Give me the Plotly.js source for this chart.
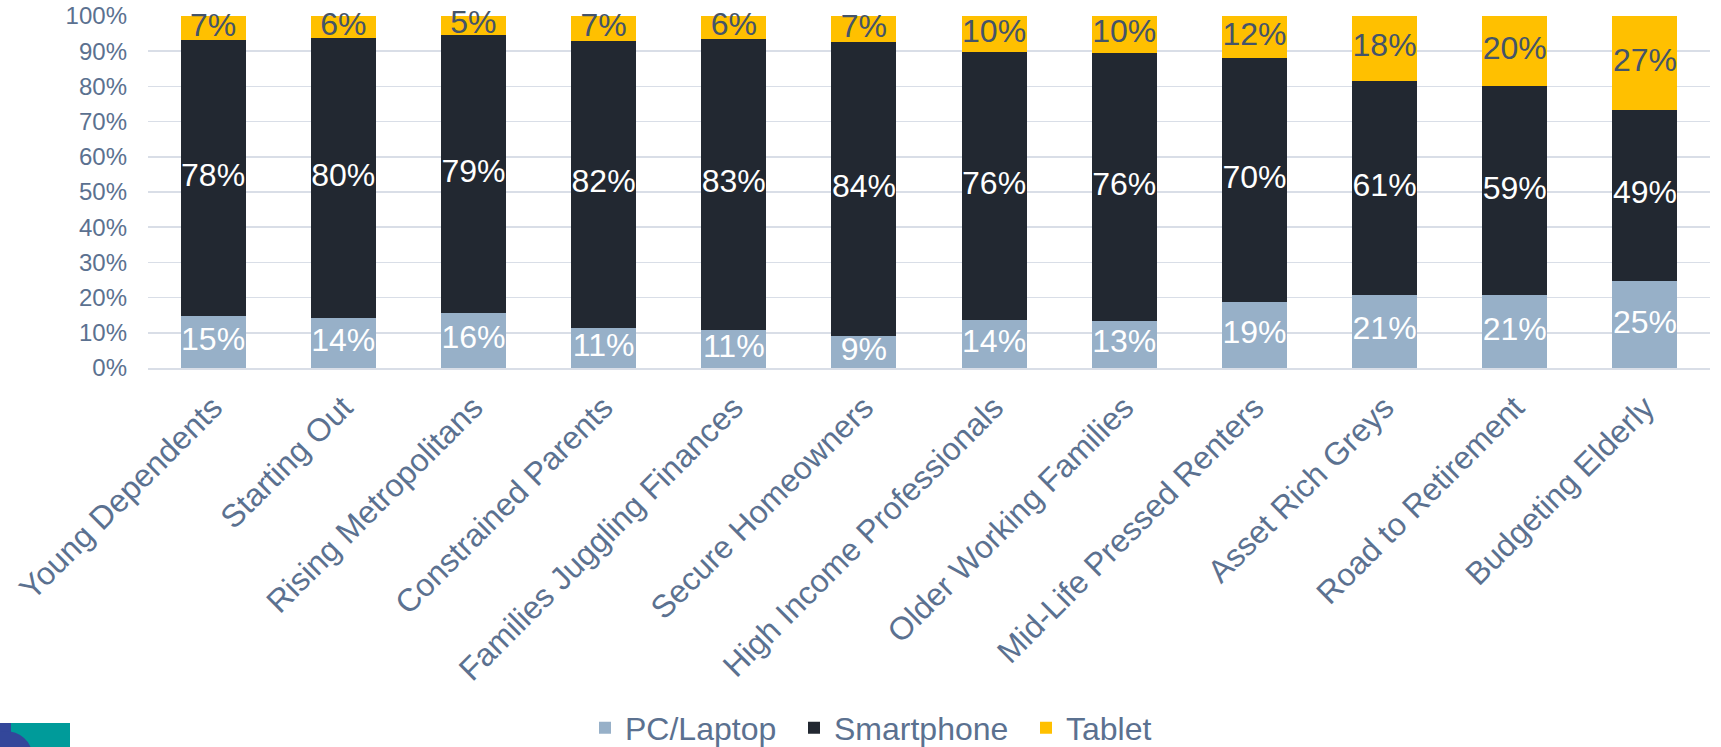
<!DOCTYPE html>
<html>
<head>
<meta charset="utf-8">
<script src="https://cdn.plot.ly/plotly-3.0.1.min.js"></script>
<style>
html,body{margin:0;padding:0;background:#fff;}
#chart{width:1721px;height:747px;}
</style>
</head>
<body>
<div id="chart"></div>
<script>
const categories = ["Young Dependents","Starting Out","Rising Metropolitans","Constrained Parents","Families Juggling Finances","Secure Homeowners","High Income Professionals","Older Working Families","Mid-Life Pressed Renters","Asset Rich Greys","Road to Retirement","Budgeting Elderly"];
const pcLaptop   = [14.8, 14.3, 15.7, 11.4, 10.7,  9.1, 13.5, 13.4, 18.7, 20.8, 20.7, 24.7];
const smartphone = [78.3, 79.5, 79.0, 81.6, 82.9, 83.5, 76.4, 76.2, 69.5, 60.8, 59.3, 48.7];
const tablet     = [ 6.9,  6.2,  5.3,  7.0,  6.4,  7.4, 10.1, 10.4, 11.8, 18.4, 20.0, 26.6];
const yTicks = [0,10,20,30,40,50,60,70,80,90,100];

const FONT = "Liberation Sans, Arial, sans-serif";
const AXIS_COLOR = "#5B7190";
const COLORS = {pc:"#97B0C8", sp:"#222831", tb:"#FFC000"};

function lbl(arr){ return arr.map(v => Math.round(v) + "%"); }
const pcMid = pcLaptop.map(v => v/2);
const spMid = smartphone.map((v,i) => pcLaptop[i] + v/2);
const tbMid = tablet.map((v,i) => pcLaptop[i] + smartphone[i] + v/2);

const traces = [
  {type:"bar", name:"PC/Laptop", x:categories, y:pcLaptop, marker:{color:COLORS.pc}, legend:"legend"},
  {type:"bar", name:"Smartphone", x:categories, y:smartphone, marker:{color:COLORS.sp}, legend:"legend2"},
  {type:"bar", name:"Tablet", x:categories, y:tablet, marker:{color:COLORS.tb}, legend:"legend3"},
  {type:"scatter", mode:"text", x:categories, y:pcMid, text:lbl(pcLaptop), textposition:"middle center",
   textfont:{family:FONT, size:32, color:"#FFFFFF"}, showlegend:false, hoverinfo:"skip", cliponaxis:false},
  {type:"scatter", mode:"text", x:categories, y:spMid, text:lbl(smartphone), textposition:"middle center",
   textfont:{family:FONT, size:32, color:"#FFFFFF"}, showlegend:false, hoverinfo:"skip", cliponaxis:false},
  {type:"scatter", mode:"text", x:categories, y:tbMid, text:lbl(tablet), textposition:"middle center",
   textfont:{family:FONT, size:32, color:"#44546A"}, showlegend:false, hoverinfo:"skip", cliponaxis:false}
];

const L=148, R=11, T=16, B=379, W=1721, H=747;
const pw = W-L-R, ph = H-T-B;
const px = x => (x-L)/pw;
const py = y => (H-B-y)/ph;

function leg(markerLeft){
  return {orientation:"h", x:px(markerLeft-14), xanchor:"left", y:py(728), yanchor:"middle",
          font:{family:FONT, size:32, color:AXIS_COLOR}, bgcolor:"rgba(0,0,0,0)", borderwidth:0};
}

const layout = {
  width:W, height:H,
  margin:{l:L, r:R, t:T, b:B, pad:0, autoexpand:false},
  paper_bgcolor:"#FFFFFF", plot_bgcolor:"#FFFFFF",
  font:{family:FONT, color:AXIS_COLOR},
  barmode:"stack",
  bargap:0.5,
  showlegend:true,
  legend: leg(599),
  legend2: leg(808),
  legend3: leg(1040),
  xaxis:{type:"category", range:[-0.5, categories.length-0.5], autorange:false,
         tickangle:-45, tickfont:{family:FONT, size:32, color:AXIS_COLOR},
         showgrid:false, showline:true, linecolor:"#D9DEE7", linewidth:2, ticks:"",
         ticklabelstandoff:6, automargin:false, fixedrange:true},
  yaxis:{range:[0,100], autorange:false, tickvals:yTicks, ticktext:yTicks.map(v=>v+"%"),
         tickfont:{family:FONT, size:24, color:AXIS_COLOR},
         showgrid:true, gridcolor:"#D9DEE7", gridwidth:1.5, zeroline:false, showline:false,
         ticks:"", ticklabelstandoff:20, automargin:false, fixedrange:true},
  shapes:[
    {type:"rect", xref:"paper", yref:"paper", x0:px(0), x1:px(70), y0:py(747), y1:py(723),
     fillcolor:"#009B9A", line:{width:0}, layer:"above"},
    {type:"rect", xref:"paper", yref:"paper", x0:px(0), x1:px(11), y0:py(747), y1:py(723),
     fillcolor:"#33479A", line:{width:0}, layer:"above"},
    {type:"circle", xref:"paper", yref:"paper", x0:px(-22), x1:px(32), y0:py(779), y1:py(731),
     fillcolor:"#33479A", line:{width:0}, layer:"above"}
  ]
};

Plotly.newPlot("chart", traces, layout, {displayModeBar:false, staticPlot:true});
</script>
</body>
</html>
